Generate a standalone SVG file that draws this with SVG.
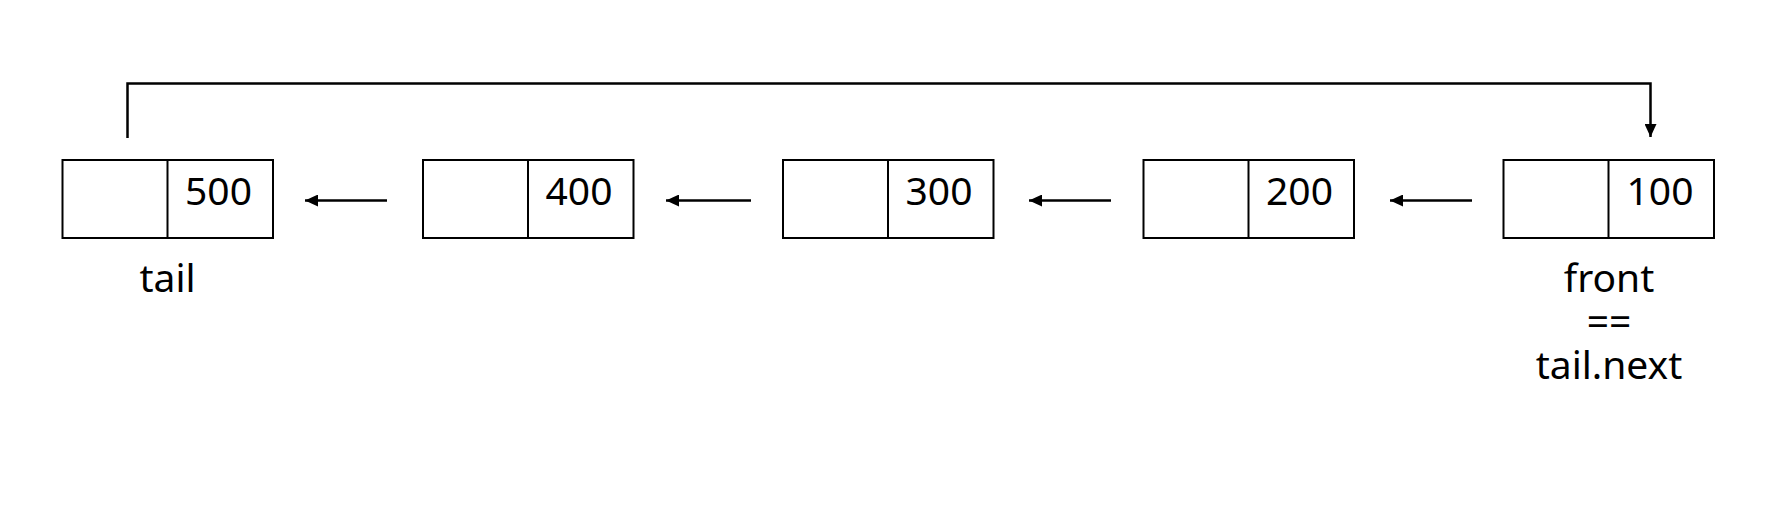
<svg xmlns="http://www.w3.org/2000/svg" width="1778" height="516" viewBox="0 0 1778 516">
<style>
.box{fill:#fff;stroke:#000;stroke-width:2}
.div{stroke:#000;stroke-width:2}
.t{font-family:"Noto Sans","Open Sans",sans-serif;font-size:39px;fill:#000;text-anchor:middle}
.c{fill:none;stroke:#000;stroke-width:2.5}
</style>
<defs>
<marker id="ah" markerUnits="userSpaceOnUse" markerWidth="14" markerHeight="12" refX="13" refY="6" orient="auto">
<path d="M0,0 L13,6 L0,12 Z" fill="#000"/>
</marker>
</defs>
<rect width="1778" height="516" fill="#fff"/>
<g id="connectors">
<path class="c" d="M127.5,138 V83.5 H1650.5 V137" marker-end="url(#ah)"/>
<line class="c" x1="387" y1="200.5" x2="305" y2="200.5" marker-end="url(#ah)"/>
<line class="c" x1="751" y1="200.5" x2="666" y2="200.5" marker-end="url(#ah)"/>
<line class="c" x1="1111" y1="200.5" x2="1029" y2="200.5" marker-end="url(#ah)"/>
<line class="c" x1="1472" y1="200.5" x2="1390" y2="200.5" marker-end="url(#ah)"/>
</g>
<g id="node500">
<rect class="box" x="62.5" y="160" width="210.5" height="78"/>
<line class="div" x1="167.5" y1="160" x2="167.5" y2="238"/>
<text class="t" x="218.5" y="205">500</text>
<text class="t" x="167.5" y="291.5">tail</text>
</g>
<g id="node400">
<rect class="box" x="423" y="160" width="210.5" height="78"/>
<line class="div" x1="528" y1="160" x2="528" y2="238"/>
<text class="t" x="579" y="205">400</text>
</g>
<g id="node300">
<rect class="box" x="783" y="160" width="210.5" height="78"/>
<line class="div" x1="888" y1="160" x2="888" y2="238"/>
<text class="t" x="939" y="205">300</text>
</g>
<g id="node200">
<rect class="box" x="1143.5" y="160" width="210.5" height="78"/>
<line class="div" x1="1248.5" y1="160" x2="1248.5" y2="238"/>
<text class="t" x="1299.5" y="205">200</text>
</g>
<g id="node100">
<rect class="box" x="1503.5" y="160" width="210.5" height="78"/>
<line class="div" x1="1608.5" y1="160" x2="1608.5" y2="238"/>
<text class="t" x="1660" y="205">100</text>
<text class="t" x="1609" y="291.5">front</text>
<text class="t" x="1609" y="335">==</text>
<text class="t" x="1609" y="378.5">tail.next</text>
</g>
</svg>
